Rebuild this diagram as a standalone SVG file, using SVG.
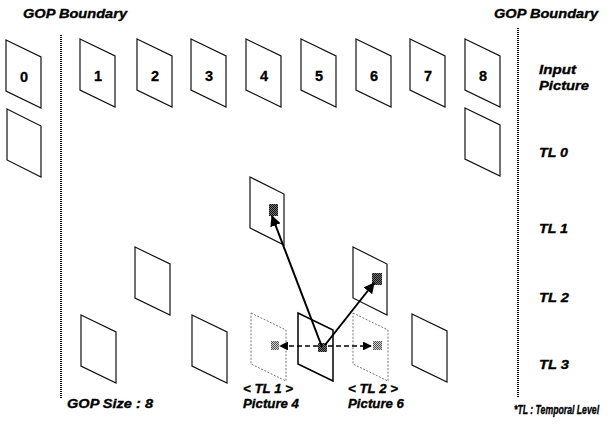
<svg xmlns="http://www.w3.org/2000/svg" xmlns:xlink="http://www.w3.org/1999/xlink" width="611" height="430" viewBox="0 0 611 430">
  <style>
    .lbl { font-family: "Liberation Sans", Arial, sans-serif; font-weight: bold; font-style: italic; font-size: 13px; fill: #000; stroke: #000; stroke-width: 0.35; }
    .num { font-family: "Liberation Sans", Arial, sans-serif; font-weight: bold; font-size: 14.5px; fill: #000; stroke: #000; stroke-width: 0.3; text-anchor: middle; }
    .frm { fill: #fff; stroke: #111; stroke-width: 1.2; }
    .frm-cur { fill: #fff; stroke: #000; stroke-width: 1.5; }
    .frm-ref { fill: #fff; stroke: #777; stroke-width: 1; stroke-dasharray: 2 1.5; }
    .gop { stroke: #000; stroke-width: 2; stroke-dasharray: 1 1; fill: none; }
    .mv { stroke: #000; stroke-width: 2; fill: none; }
    .mv-dash { stroke: #000; stroke-width: 1.6; stroke-dasharray: 5 3; fill: none; }
  </style>
  <defs>
    <!-- one picture, drawn as a slanted parallelogram -->
    <path id="pic" d="M0,0 L35,17 L35,68 L0,51 Z"/>
    <path id="picN" d="M0,0 L34,17 L34,68 L0,51 Z"/>
    <pattern id="dots" width="2" height="2" patternUnits="userSpaceOnUse">
      <rect width="2" height="2" fill="#777"/>
      <rect width="1" height="1" fill="#111"/>
      <rect x="1" y="1" width="1" height="1" fill="#111"/>
    </pattern>
    <pattern id="dotsLight" width="2" height="2" patternUnits="userSpaceOnUse">
      <rect width="2" height="2" fill="#ccc"/>
      <rect width="1" height="1" fill="#555"/>
      <rect x="1" y="1" width="1" height="1" fill="#555"/>
    </pattern>
    <marker id="head" viewBox="0 0 10 10" refX="9" refY="5" markerWidth="5.5" markerHeight="5.5" orient="auto">
      <path d="M0,0 L10,5 L0,10 Z" fill="#000"/>
    </marker>
  </defs>

  <!-- GOP boundaries -->
  <g id="boundaries">
    <line class="gop" x1="61" y1="35" x2="61" y2="398"/>
    <line class="gop" x1="518" y1="28" x2="518" y2="397"/>
    <text class="lbl" x="23" y="18" font-size="14" textLength="104" lengthAdjust="spacingAndGlyphs">GOP Boundary</text>
    <text class="lbl" x="494" y="18" font-size="14" textLength="104" lengthAdjust="spacingAndGlyphs">GOP Boundary</text>
    <text class="lbl" x="67" y="408" font-size="14" textLength="86" lengthAdjust="spacingAndGlyphs">GOP Size : 8</text>
  </g>

  <!-- input pictures -->
  <g id="input-0"><use xlink:href="#pic" x="6" y="40" class="frm"/><text class="num" x="24" y="82">0</text></g>
  <g id="input-1"><use xlink:href="#pic" x="80" y="39" class="frm"/><text class="num" x="98" y="81">1</text></g>
  <g id="input-2"><use xlink:href="#pic" x="137" y="39" class="frm"/><text class="num" x="155" y="81">2</text></g>
  <g id="input-3"><use xlink:href="#pic" x="191" y="39" class="frm"/><text class="num" x="209" y="81">3</text></g>
  <g id="input-4"><use xlink:href="#pic" x="246" y="39" class="frm"/><text class="num" x="264" y="81">4</text></g>
  <g id="input-5"><use xlink:href="#pic" x="301" y="39" class="frm"/><text class="num" x="319" y="81">5</text></g>
  <g id="input-6"><use xlink:href="#pic" x="356" y="39" class="frm"/><text class="num" x="374" y="81">6</text></g>
  <g id="input-7"><use xlink:href="#pic" x="410" y="39" class="frm"/><text class="num" x="428" y="81">7</text></g>
  <g id="input-8"><use xlink:href="#pic" x="465" y="39" class="frm"/><text class="num" x="483" y="81">8</text></g>

  <!-- temporal level 0 -->
  <g id="tl0-0"><use xlink:href="#picN" x="7" y="109" class="frm"/></g>
  <g id="tl0-8"><use xlink:href="#pic" x="465" y="108" class="frm"/></g>

  <!-- temporal level 1 -->
  <g id="tl1-4">
    <use xlink:href="#picN" x="250" y="177" class="frm"/>
    <rect x="269" y="204" width="9" height="12" fill="url(#dots)"/>
  </g>

  <!-- temporal level 2 -->
  <g id="tl2-2"><use xlink:href="#pic" x="135" y="247" class="frm"/></g>
  <g id="tl2-6">
    <use xlink:href="#picN" x="353" y="247" class="frm"/>
    <rect x="372" y="273" width="10" height="12" fill="url(#dots)"/>
  </g>

  <!-- temporal level 3 -->
  <g id="tl3-1"><use xlink:href="#pic" x="81" y="315" class="frm"/></g>
  <g id="tl3-3"><use xlink:href="#pic" x="192" y="315" class="frm"/></g>
  <g id="tl3-4">
    <use xlink:href="#pic" x="251" y="313" class="frm-ref"/>
    <rect x="271" y="341" width="8" height="9" fill="url(#dotsLight)"/>
  </g>
  <g id="tl3-5">
    <use xlink:href="#pic" x="298" y="313" class="frm-cur"/>
    <rect x="318" y="343" width="9" height="9" fill="url(#dots)"/>
  </g>
  <g id="tl3-6">
    <use xlink:href="#pic" x="353" y="313" class="frm-ref"/>
    <rect x="373" y="341" width="9" height="9" fill="url(#dotsLight)"/>
  </g>
  <g id="tl3-7"><use xlink:href="#pic" x="412" y="314" class="frm"/></g>

  <!-- motion vectors -->
  <g id="connectors">
    <line class="mv" x1="322" y1="347" x2="272" y2="216" marker-end="url(#head)"/>
    <line class="mv" x1="325" y1="345" x2="374" y2="283" marker-end="url(#head)"/>
    <line class="mv-dash" x1="318" y1="346" x2="280" y2="346" marker-end="url(#head)"/>
    <line class="mv-dash" x1="328" y1="346" x2="371" y2="346" marker-end="url(#head)"/>
  </g>

  <!-- level labels -->
  <g id="levels">
    <text class="lbl" x="539" y="74" textLength="37" lengthAdjust="spacingAndGlyphs">Input</text>
    <text class="lbl" x="539" y="90" textLength="50" lengthAdjust="spacingAndGlyphs">Picture</text>
    <text class="lbl" x="539" y="157" textLength="29" lengthAdjust="spacingAndGlyphs">TL 0</text>
    <text class="lbl" x="539" y="233" textLength="29" lengthAdjust="spacingAndGlyphs">TL 1</text>
    <text class="lbl" x="539" y="302" textLength="30" lengthAdjust="spacingAndGlyphs">TL 2</text>
    <text class="lbl" x="539" y="369" textLength="30" lengthAdjust="spacingAndGlyphs">TL 3</text>
    <!-- footnote, horizontally condensed to sit inside the right margin -->
    <text class="lbl" transform="translate(514 414) scale(0.67 1)" font-size="14">*TL : Temporal Level</text>
  </g>

  <g id="captions">
    <text class="lbl" x="243" y="393" font-size="13" textLength="50" lengthAdjust="spacingAndGlyphs">&lt; TL 1 &gt;</text>
    <text class="lbl" x="243" y="408" font-size="13" textLength="56" lengthAdjust="spacingAndGlyphs">Picture 4</text>
    <text class="lbl" x="348" y="393" font-size="13" textLength="50" lengthAdjust="spacingAndGlyphs">&lt; TL 2 &gt;</text>
    <text class="lbl" x="348" y="408" font-size="13" textLength="56" lengthAdjust="spacingAndGlyphs">Picture 6</text>
  </g>
</svg>
